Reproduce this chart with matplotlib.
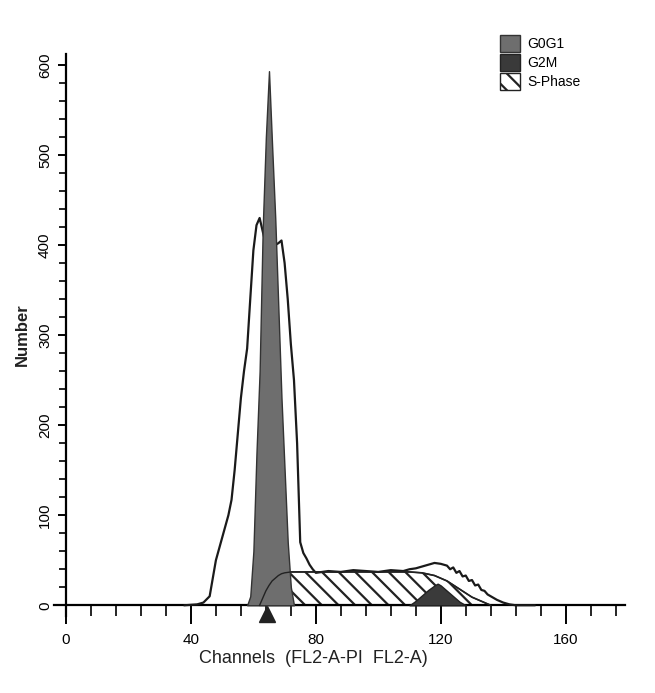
import matplotlib
matplotlib.use("Agg")
import matplotlib.pyplot as plt
from matplotlib.patches import Patch
from matplotlib.ticker import MultipleLocator

plt.rcParams['font.family'] = ['Liberation Sans', 'DejaVu Sans']
plt.rcParams['hatch.linewidth'] = 1.6

# measured histogram (outer line)
total_ch = [38, 42, 44, 46, 47, 48, 50, 52, 53, 54, 55, 56, 57, 58, 59, 60, 61, 62, 63,
            64, 65, 66, 67, 68, 69, 70, 71, 72, 73, 74, 75, 76, 77, 78, 79, 80,
            84, 88, 92, 96, 100, 104, 108, 110, 112, 114, 116, 118, 120, 122, 123,
            124, 125, 126, 127, 128, 129, 130, 131, 132, 133, 134, 135, 136, 138,
            140, 142, 144, 150]
total_counts = [0, 1, 3, 10, 30, 50, 75, 100, 117, 150, 190, 230, 260, 285, 340, 394, 422, 430, 415,
                400, 400, 400, 400, 402, 405, 380, 340, 290, 250, 180, 70, 58, 52, 45, 40, 36,
                38, 37, 39, 38, 37, 39, 38, 40, 41, 43, 45, 47, 46, 44, 40,
                42, 36, 38, 32, 33, 27, 28, 22, 23, 17, 16, 12, 10, 6,
                3, 1, 0, 0]

# G0G1 fit
g1_ch = [58, 59, 60, 61, 62, 63, 64, 65, 66, 67, 68, 69, 70, 71, 72, 73]
g1_counts = [0, 10, 60, 170, 260, 420, 520, 593, 510, 430, 330, 230, 150, 70, 20, 0]

# G2M fit
g2_ch = [110, 112, 114, 116, 118, 119, 120, 122, 124, 126, 128]
g2_counts = [0, 5, 11, 17, 22, 24, 22, 16, 10, 4, 0]

# S-phase fit
s_ch = [62, 63, 64, 65, 66, 67, 68, 69, 70, 72, 80, 90, 100, 110, 114, 118, 122, 126, 130, 134, 136]
s_counts = [0, 8, 16, 22, 27, 30, 33, 35, 36, 37, 37, 37, 37, 37, 36, 33, 27, 18, 9, 3, 0]

g1_peak = 64.5

fig = plt.figure(figsize=(6.55, 6.93), dpi=100)
ax = fig.add_axes([0.0817, 0.111, 0.8725, 0.811])

ax.fill_between(s_ch, s_counts, 0, facecolor='white', edgecolor='#222222',
                hatch='\\\\', linewidth=1.2, zorder=2)
ax.fill_between(g2_ch, g2_counts, 0, facecolor='#3a3a3a', edgecolor='#222222',
                linewidth=1.0, zorder=3)
ax.fill_between(g1_ch, g1_counts, 0, facecolor='#6e6e6e', edgecolor='#333333',
                linewidth=1.0, zorder=4)
ax.plot(s_ch, s_counts, color='#222222', lw=1.0, zorder=5)
ax.plot(total_ch, total_counts, color='#1a1a1a', lw=1.6, zorder=3.5)

ax.plot([g1_peak], [-10], marker='^', ms=11, color='#222222', clip_on=False, zorder=7)

ax.set_xlim(-4, 179)
ax.set_ylim(-12, 612)
for s in ['top', 'right']:
    ax.spines[s].set_visible(False)
ax.spines['left'].set_position(('data', 0))
ax.spines['bottom'].set_position(('data', 0))
ax.spines['left'].set_linewidth(1.6)
ax.spines['bottom'].set_linewidth(1.6)

ax.xaxis.set_major_locator(MultipleLocator(40))
ax.xaxis.set_minor_locator(MultipleLocator(8))
ax.yaxis.set_major_locator(MultipleLocator(100))
ax.yaxis.set_minor_locator(MultipleLocator(20))
ax.tick_params(axis='x', which='major', direction='out', length=14, width=1.4, pad=6, labelsize=11)
ax.tick_params(axis='x', which='minor', direction='out', length=8, width=1.2)
ax.tick_params(axis='y', which='major', direction='out', length=6, width=1.4, pad=4, labelsize=11)
ax.tick_params(axis='y', which='minor', direction='out', length=5, width=1.2)
for lab in ax.get_yticklabels():
    lab.set_rotation(90)
    lab.set_va('center')

ax.set_xlabel('Channels  (FL2-A-PI  FL2-A)', fontsize=13, labelpad=0, color='#222222')
ax.set_ylabel('Number', fontsize=12, fontweight='bold', color='#222222')
ax.yaxis.set_label_coords(-0.042, 0.5)
ax.xaxis.set_label_coords(0.455, -0.06)

handles = [Patch(facecolor='#6e6e6e', edgecolor='#333333', label='G0G1'),
           Patch(facecolor='#3a3a3a', edgecolor='#222222', label='G2M'),
           Patch(facecolor='white', edgecolor='#222222', hatch='\\\\', label='S-Phase')]
fig.legend(handles=handles, loc='upper left', bbox_to_anchor=(0.745, 0.968), frameon=False,
           handlelength=1.4, handleheight=1.5, labelspacing=0.15, handletextpad=0.5,
           fontsize=10)

fig.savefig('out.png', dpi=100)
